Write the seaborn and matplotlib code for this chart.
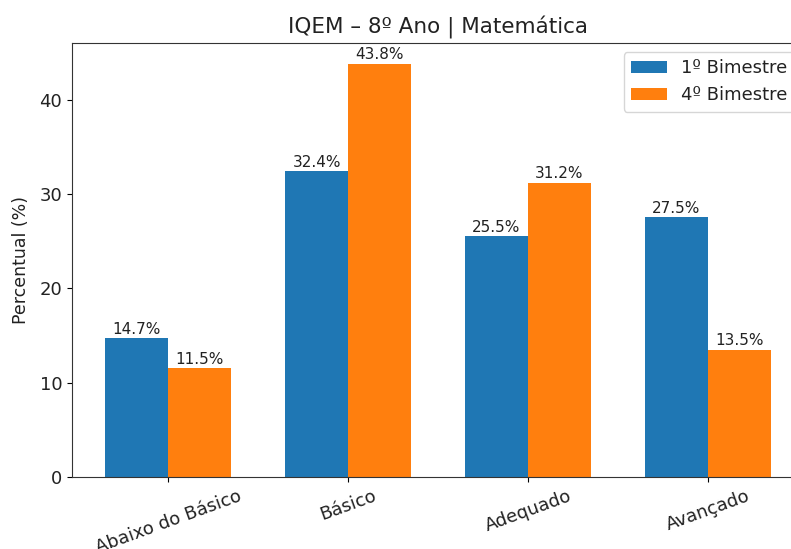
import matplotlib
matplotlib.use("Agg")
import matplotlib.pyplot as plt
import seaborn as sns
import pandas as pd

categorias = ["Abaixo do Básico", "Básico", "Adequado", "Avançado"]
bim1 = [14.7, 32.4, 25.5, 27.5]
bim4 = [11.5, 43.8, 31.2, 13.5]
series = ["1º Bimestre", "4º Bimestre"]
cores = ["#1f77b4", "#ff7f0e"]

df = pd.DataFrame({
    "Nível": categorias * 2,
    "Percentual": bim1 + bim4,
    "Período": [series[0]] * len(categorias) + [series[1]] * len(categorias),
})

plt.rcParams["text.color"] = "#222222"
plt.rcParams["xtick.labelcolor"] = "#222222"
plt.rcParams["ytick.labelcolor"] = "#222222"
plt.rcParams["axes.labelcolor"] = "#222222"
plt.rcParams["axes.edgecolor"] = "#333333"

W, H = 791, 549
fig = plt.figure(figsize=(W / 100, H / 100), dpi=100)
ax = fig.add_axes([72 / W, 1 - 477 / H, (804 - 72) / W, (477 - 43) / H])

sns.barplot(data=df, x="Nível", y="Percentual", hue="Período",
            palette=cores, saturation=1, width=0.7, ax=ax, errorbar=None)

for c in ax.containers:
    ax.bar_label(c, fmt="%.1f%%", fontsize=11, padding=1)

ax.set_xlim(-0.535, 3.535)
ax.set_ylim(0, 45.99)
ax.set_title("IQEM – 8º Ano | Matemática", fontsize=15.5, pad=7)
ax.set_ylabel("Percentual (%)", fontsize=12.5, labelpad=7)
ax.set_xlabel("")
ax.tick_params(axis="x", labelsize=13, labelrotation=20)
ax.tick_params(axis="y", labelsize=13)
ax.legend(loc="upper right", fontsize=13)

fig.savefig("out.png", dpi=100)
